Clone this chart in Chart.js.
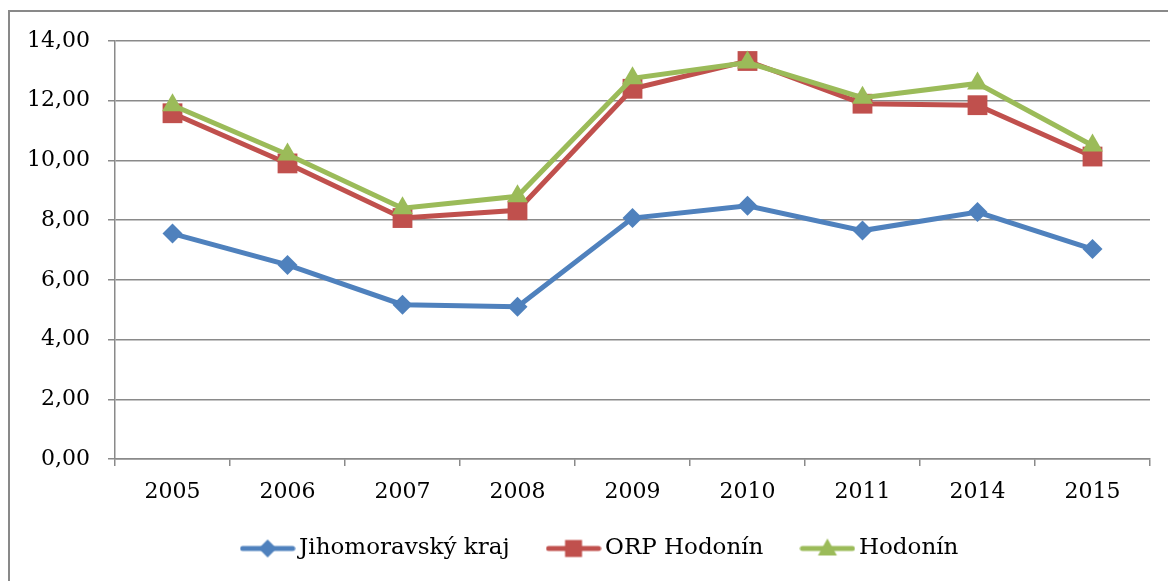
<!DOCTYPE html>
<html>
<head>
<meta charset="utf-8">
<script src="https://cdn.jsdelivr.net/npm/chart.js@4.4.1/dist/chart.umd.min.js"></script>
<style>
  html, body { margin: 0; padding: 0; background: #fff; overflow: hidden; }
  #wrap { position: relative; width: 1168px; height: 581px; }
  #frame { position: absolute; left: 8px; top: 10px; width: 1300px; height: 700px; border: 2px solid #898989; box-sizing: border-box; }
  #chart { position: absolute; left: 0; top: 0; }
</style>
</head>
<body>
<div id="wrap">
  <div id="frame"></div>
  <canvas id="chart" width="1168" height="581"></canvas>
</div>
<script>
// --- data ---
const years = ['2005', '2006', '2007', '2008', '2009', '2010', '2011', '2014', '2015'];
const jihomoravsky = [7.55, 6.50, 5.17, 5.10, 8.07, 8.48, 7.65, 8.27, 7.03];
const orpHodonin   = [11.58, 9.90, 8.07, 8.33, 12.40, 13.33, 11.90, 11.85, 10.13];
const hodonin      = [11.85, 10.20, 8.40, 8.80, 12.75, 13.28, 12.10, 12.58, 10.50];
const yTicks = [0, 2, 4, 6, 8, 10, 12, 14];

const BLUE = '#4F81BD';
const RED = '#C0504D';
const GREEN = '#9BBB59';
const GRID = '#8a8a8a';
const FONT = "'DejaVu Serif', serif";

// legend sample: line with the marker in the middle
function legendSample(color, shape) {
  const c = document.createElement('canvas');
  c.width = 56; c.height = 24;
  const g = c.getContext('2d');
  g.strokeStyle = color;
  g.lineWidth = 5;
  g.lineCap = 'round';
  g.beginPath(); g.moveTo(3, 12); g.lineTo(53, 12); g.stroke();
  g.fillStyle = color;
  g.beginPath();
  if (shape === 'diamond') {
    g.moveTo(28, 3); g.lineTo(37, 12); g.lineTo(28, 21); g.lineTo(19, 12);
  } else if (shape === 'square') {
    g.rect(19.5, 3.5, 17, 17);
  } else {
    g.moveTo(28, 2); g.lineTo(37.5, 19); g.lineTo(18.5, 19);
  }
  g.closePath(); g.fill();
  return c;
}

const samples = [legendSample(BLUE, 'diamond'), legendSample(RED, 'square'), legendSample(GREEN, 'triangle')];

// nudge the legend row right and up, like the original
const legendShift = {
  id: 'legendShift',
  afterLayout(chart) {
    const lg = chart.legend;
    lg.left += 28;
    lg.right += 28;
    lg.top -= 6;
    lg.bottom -= 6;
  }
};

const ctx = document.getElementById('chart');

new Chart(ctx, {
  type: 'line',
  data: {
    labels: years,
    datasets: [
      {
        label: 'Jihomoravský kraj',
        data: jihomoravsky,
        borderColor: BLUE,
        backgroundColor: BLUE,
        borderWidth: 5,
        pointStyle: 'rectRot',
        pointRadius: 10,
        pointBorderWidth: 0,
        order: 3
      },
      {
        label: 'ORP Hodonín',
        data: orpHodonin,
        borderColor: RED,
        backgroundColor: RED,
        borderWidth: 5,
        pointStyle: 'rect',
        pointRadius: 14,
        pointBorderWidth: 0,
        order: 2
      },
      {
        label: 'Hodonín',
        data: hodonin,
        borderColor: GREEN,
        backgroundColor: GREEN,
        borderWidth: 5,
        pointStyle: 'triangle',
        pointRadius: 12,
        pointBorderWidth: 0,
        order: 1
      }
    ]
  },
  plugins: [legendShift],
  options: {
    responsive: false,
    maintainAspectRatio: false,
    animation: false,
    layout: { padding: { left: 0, top: 41, right: 18, bottom: 5 } },
    plugins: {
      tooltip: { enabled: false },
      legend: {
        position: 'bottom',
        labels: {
          color: '#000',
          font: { family: FONT, size: 23 },
          usePointStyle: true,
          pointStyleWidth: 40,
          padding: 44,
          sort: (a, b) => a.datasetIndex - b.datasetIndex,
          generateLabels(chart) {
            return chart.data.datasets.map((ds, i) => ({
              text: ds.label,
              pointStyle: samples[i],
              fillStyle: ds.borderColor,
              strokeStyle: ds.borderColor,
              lineWidth: 0,
              hidden: false,
              datasetIndex: i,
              fontColor: '#000'
            }));
          }
        }
      }
    },
    scales: {
      x: {
        offset: true,
        afterFit(scale) { scale.height = 40; },
        grid: {
          offset: true,
          drawOnChartArea: false,
          drawTicks: true,
          tickLength: 7,
          color: GRID,
          lineWidth: 1.5
        },
        border: { display: true, color: GRID, width: 1.5 },
        ticks: { color: '#000', font: { family: FONT, size: 22 }, padding: 13, maxRotation: 0 }
      },
      y: {
        min: 0,
        max: 14,
        afterFit(scale) { scale.width = 115; },
        afterBuildTicks(scale) { scale.ticks = yTicks.map(v => ({ value: v })); },
        grid: { color: GRID, lineWidth: 1.5, tickLength: 7 },
        border: { display: true, color: GRID, width: 1.5 },
        ticks: {
          color: '#000',
          font: { family: FONT, size: 22 },
          padding: 18,
          callback: v => v.toFixed(2).replace('.', ',')
        }
      }
    }
  }
});
</script>
</body>
</html>
